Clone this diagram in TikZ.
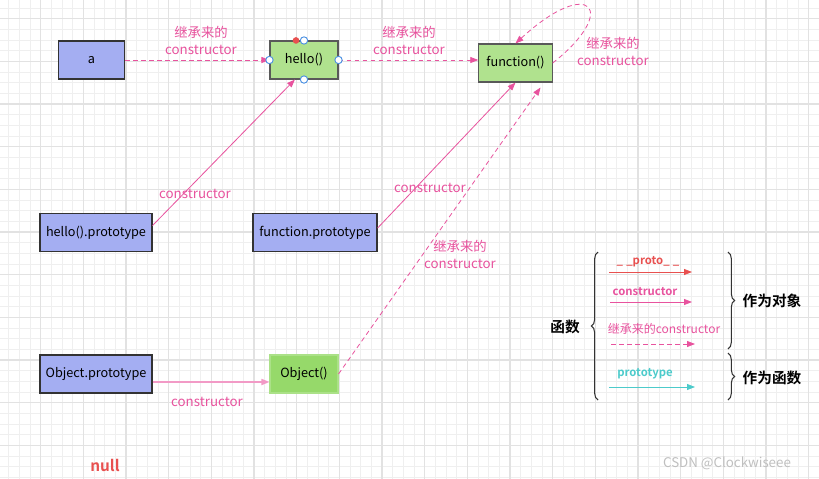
\documentclass[tikz,border=0pt]{standalone}
\usepackage{fontspec}
\setmainfont{Noto Sans CJK SC}[BoldFont={Noto Sans CJK SC Bold}]
\usetikzlibrary{arrows.meta,calc,decorations.pathreplacing}

\definecolor{boxblue}{HTML}{A4AEF2}
\definecolor{boxgreen}{HTML}{B0E28E}
\definecolor{objgreen}{HTML}{96D96A}
\definecolor{linepink}{HTML}{E8539E}
\definecolor{lightpink}{HTML}{F29AC6}
\definecolor{protored}{HTML}{E8504F}
\definecolor{protocyan}{HTML}{4CCBCB}
\definecolor{gridminor}{HTML}{EFEFEF}
\definecolor{gridmajor}{HTML}{E2E2E2}
\definecolor{handleblue}{HTML}{4A90E2}

\tikzset{
  protobox/.style={draw=black!80, fill=boxblue, line width=0.8pt, minimum height=28.5pt,
    inner sep=0pt, font=\fontsize{9.5}{11}\selectfont},
  fnbox/.style={protobox, fill=boxgreen, draw=black!65},
  ctor/.style={draw=linepink, line width=0.6pt, -{Triangle[length=6pt,width=4.5pt]}, linepink},
  inherit/.style={ctor, dash pattern=on 3.5pt off 2.5pt},
  lbl/.style={text=linepink, font=\fontsize{10}{12.75}\selectfont, align=center},
  handle/.style={circle, draw=handleblue, fill=white, line width=0.7pt, inner sep=0pt, minimum size=5.5pt},
  bracebar/.style={decorate, decoration={brace, amplitude=5pt}, draw=black!80, line width=0.8pt},
  legend/.style={font=\fontsize{9}{11}\selectfont},
}

\begin{document}
\begin{tikzpicture}[x=0.75pt, y=-0.75pt]
\useasboundingbox (0,0) rectangle (819,479);
\fill[white] (0,0) rectangle (819,479);

% grid
\foreach \i in {0,...,77}
  \draw[gridminor, line width=0.75pt] ({-2+10.667*\i},0) -- ({-2+10.667*\i},479);
\foreach \j in {-2,...,43}
  \draw[gridminor, line width=0.75pt] (0,{18.8+10.667*\j}) -- (819,{18.8+10.667*\j});
\foreach \i in {0,...,19}
  \draw[gridmajor, line width=1pt] ({-2+42.667*\i},0) -- ({-2+42.667*\i},479);
\foreach \j in {0,...,10}
  \draw[gridmajor, line width=1pt] (0,{18.8+42.667*\j}) -- (819,{18.8+42.667*\j});

% boxes
\node[protobox, minimum width=50pt] (a) at (91.5,60) {a};
\node[fnbox, minimum width=51pt] (hello) at (304,60) {hello()};
\node[fnbox, minimum width=55pt] (fn) at (515.5,63) {function()};
\node[protobox, minimum width=84pt] (hp) at (96,232.5) {hello().prototype};
\node[protobox, minimum width=93pt] (fp) at (315,232.5) {function.prototype};
\node[protobox, minimum width=84pt] (op) at (96,374) {Object.prototype};
\node[fnbox, fill=objgreen, draw=objgreen!80!white, minimum width=51pt] (ob) at (304,374) {Object()};
\node[text=protored, font=\bfseries\fontsize{11.5}{13}\selectfont] (null) at (105,465) {null};

% links
\draw[inherit] (a.east) -- (hello.west);
\draw[inherit] (hello.east) -- (hello.east -| fn.west);
\draw[inherit] (fn.east) .. controls (620,10) and (590,-25) .. (fn.north);
\draw[ctor] (hp.7) -- (hello.245);
\draw[ctor] (fp.4) -- (fn.south);
\draw[inherit] (ob.east) -- ($(fn.south)+(25,5)$);
\draw[ctor, draw=lightpink, line width=1.2pt] ($(op.east)+(0,8)$) -- ($(ob.west)+(0,8)$);

% labels
\node[lbl] (l1) at (201,40) {继承来的\\constructor};
\node[lbl] (l2) at (409,40) {继承来的\\constructor};
\node[lbl] (l3) at (613,51) {继承来的\\constructor};
\node[lbl] (l4) at (195,194) {constructor};
\node[lbl] (l5) at (430,188) {constructor};
\node[lbl] (l6) at (460,254) {继承来的\\constructor};
\node[lbl] (l7) at (207,402) {constructor};

% selection handles
\node[circle, fill=protored, inner sep=0pt, minimum size=5pt] (hr) at ($(hello.north)+(-8,0)$) {};
\node[handle] (hn) at (hello.north) {};
\node[handle] (hs) at (hello.south) {};
\node[handle] (hw) at (hello.west) {};
\node[handle] (he) at (hello.east) {};

% legend
\draw[bracebar] (598,400) -- (598,252);
\draw[bracebar] (728,252) -- (728,349);
\draw[bracebar] (728,353) -- (728,400);
\node[font=\bfseries\fontsize{11}{13}\selectfont] (fnl) at (565,327) {函数};
\node[font=\bfseries\fontsize{11}{13}\selectfont] (asobj) at (772,301) {作为对象};
\node[font=\bfseries\fontsize{11}{13}\selectfont] (asfn) at (772,378) {作为函数};

\node[legend, text=protored, font=\bfseries\fontsize{8.5}{10}\selectfont] (kp) at (648,262) {\_\;\_proto\_\;\_};
\coordinate (kp1) at (609,272);
\coordinate (kp2) at (692,272);
\draw[ctor, draw=protored!85, protored] (kp1) -- (kp2);

\node[legend, text=linepink, font=\bfseries\fontsize{8.5}{10}\selectfont] (kc) at (645,292) {constructor};
\coordinate (kc1) at (610,302);
\coordinate (kc2) at (692,302);
\draw[ctor] (kc1) -- (kc2);

\node[legend, text=linepink] (ki) at (664,329) {继承来的constructor};
\coordinate (ki1) at (611,344);
\coordinate (ki2) at (695,344);
\draw[inherit] (ki1) -- (ki2);

\node[legend, text=protocyan, font=\bfseries\fontsize{8.5}{10}\selectfont] (kt) at (645,374) {prototype};
\coordinate (kt1) at (609,387);
\coordinate (kt2) at (695,387);
\draw[ctor, draw=protocyan, protocyan] (kt1) -- (kt2);

\node[text=black!25, font=\fontsize{10}{12}\selectfont] (mark) at (727,463) {CSDN @Clockwiseee};
\end{tikzpicture}
\end{document}
